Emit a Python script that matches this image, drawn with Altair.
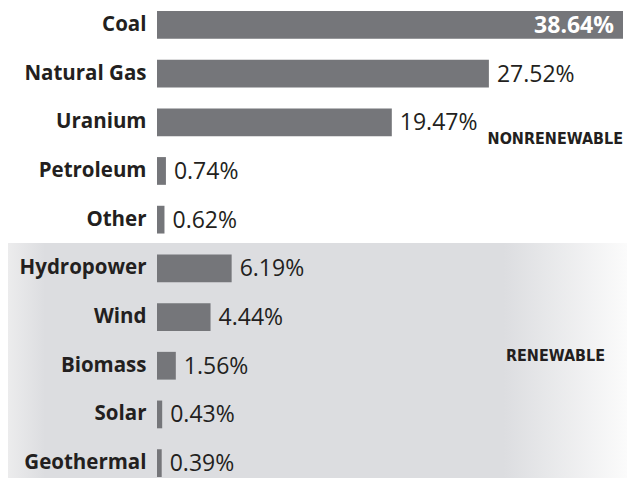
import altair as alt
import pandas as pd

categories = ["Coal", "Natural Gas", "Uranium", "Petroleum", "Other",
              "Hydropower", "Wind", "Biomass", "Solar", "Geothermal"]
values = [38.64, 27.52, 19.47, 0.74, 0.62, 6.19, 4.44, 1.56, 0.43, 0.39]
groups = ["Nonrenewable"] * 5 + ["Renewable"] * 5
group_labels = ["NONRENEWABLE", "RENEWABLE"]

df = pd.DataFrame({"source": categories, "share": values, "group": groups})
df["label"] = [f"{v:.2f}%" for v in values]

W, H = 466, 466
TOP = 3
BAR = "#75767a"
TEXT = "#231f20"

y_enc = alt.Y("source:N", sort=categories,
              scale=alt.Scale(paddingInner=0.43, paddingOuter=0),
              axis=alt.Axis(title=None, domain=False, ticks=False, labelPadding=11,
                            labelFont="Open Sans", labelFontWeight="bold",
                            labelFontSize=20.5, labelColor=TEXT, zindex=1))
x_enc = alt.X("share:Q", scale=alt.Scale(domain=[0, 38.64], nice=False, zero=True),
              axis=None)

bg = alt.Chart(pd.DataFrame({"g": ["Renewable"]})).mark_rect(
    color=alt.LinearGradient(
        gradient="linear", x1=0, x2=1, y1=0, y2=0,
        stops=[alt.GradientStop(color="#ececed", offset=0),
               alt.GradientStop(color="#dcdde0", offset=0.06),
               alt.GradientStop(color="#dcdde0", offset=0.80),
               alt.GradientStop(color="#fbfbfb", offset=1)]),
).encode(x=alt.value(-149), x2=alt.value(W + 4),
         y=alt.value(235 - TOP), y2=alt.value(H + 4))

bars = alt.Chart(df).mark_bar(color=BAR, cornerRadius=0).encode(y=y_enc, x=x_enc)

outside = alt.Chart(df).transform_filter("datum.share < 30").mark_text(
    align="left", baseline="middle", dx=8, dy=1,
    font="Open Sans", fontSize=23, color=TEXT
).encode(y=alt.Y("source:N", sort=categories), x="share:Q", text="label:N")

inside = alt.Chart(df).transform_filter("datum.share >= 30").mark_text(
    align="right", baseline="middle", dx=-9, dy=1,
    font="Open Sans", fontWeight="bold", fontSize=23, color="white"
).encode(y=alt.Y("source:N", sort=categories), x="share:Q", text="label:N")

gl = pd.DataFrame({"t": group_labels, "xx": [W, W - 18], "yy": [131 - TOP, 348 - TOP]})
glabels = alt.Chart(gl).mark_text(
    align="right", baseline="middle", font="DejaVu Sans Condensed",
    fontWeight="bold", fontSize=16, color=TEXT
).encode(text="t:N",
         x=alt.X("xx:Q", scale=None), y=alt.Y("yy:Q", scale=None))

chart = alt.layer(bg, bars, outside, inside, glabels).properties(
    width=W, height=H, autosize="none",
    padding={"left": 149, "top": TOP, "right": 4, "bottom": 1},
    background="white"
).configure_view(stroke=None)

chart.save("out.html", embed_options={"renderer": "svg", "actions": False})
